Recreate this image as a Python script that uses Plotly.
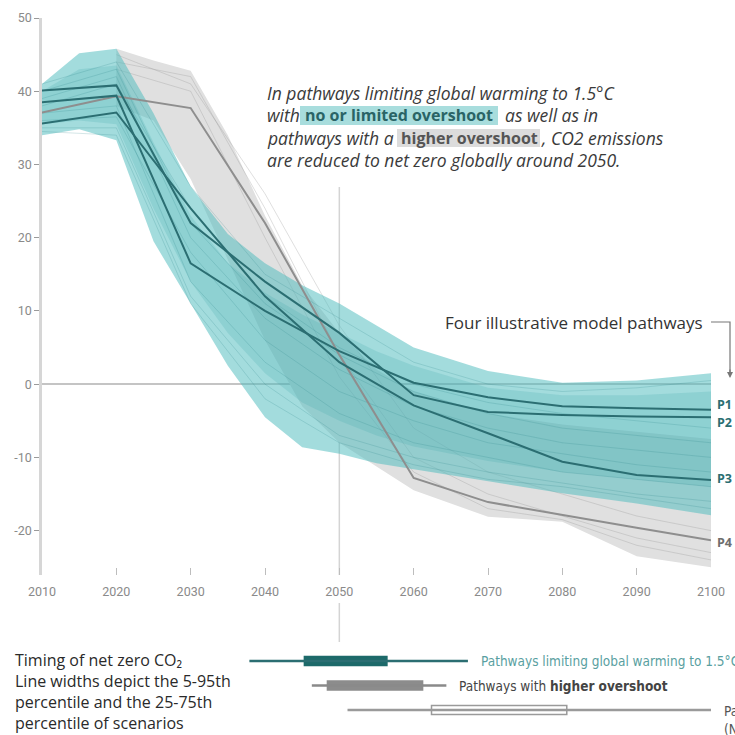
import plotly.graph_objects as go

# ---------------- data ----------------
band_years = [2010, 2015, 2020, 2025, 2030, 2035, 2040, 2045, 2050, 2055, 2060, 2070, 2080, 2090, 2100]
teal_upper = [41.0, 45.2, 45.8, 37.0, 27.0, 20.5, 16.5, 13.5, 11.0, 8.0, 5.0, 1.8, 0.2, 0.5, 1.5]
teal_lower = [34.0, 34.8, 33.3, 19.5, 11.0, 2.5, -4.5, -8.6, -9.5, -10.8, -11.7, -13.3, -14.9, -16.3, -17.9]
inner_upper = [40.0, 43.0, 43.5, 33.0, 23.0, 16.5, 12.5, 9.5, 7.0, 4.5, 2.5, -0.5, -1.5, -1.5, -1.0]
inner_lower = [35.5, 36.0, 35.5, 24.0, 14.0, 7.0, 1.5, -2.5, -5.0, -7.0, -8.5, -10.5, -12.0, -13.0, -14.0]

grey_years = [2020, 2025, 2030, 2035, 2040, 2045, 2050, 2055, 2060, 2070, 2080, 2090, 2100]
grey_upper = [45.8, 44.2, 42.8, 34.0, 23.0, 13.5, 7.0, 2.0, -1.0, -4.0, -5.5, -6.5, -7.5]
grey_lower = [38.0, 36.0, 28.0, 17.0, 6.0, -3.0, -8.0, -11.3, -14.5, -18.1, -18.8, -23.5, -25.0]

line_years = [2010, 2020, 2030, 2040, 2050, 2060, 2070, 2080, 2090, 2100]
P1 = [38.5, 39.4, 16.5, 10.0, 4.5, 0.2, -1.8, -3.0, -3.3, -3.5]
P2 = [40.1, 40.8, 22.0, 14.0, 7.0, -1.5, -3.8, -4.2, -4.4, -4.5]
P3 = [35.6, 37.1, 24.0, 12.0, 3.0, -2.9, -6.7, -10.6, -12.4, -13.1]
P4 = [37.1, 39.3, 37.7, 22.0, 4.0, -12.8, -16.1, -17.9, -19.6, -21.3]

# thin individual scenario lines (texture)
teal_scen = [
    [41.0, 44.0, 27.0, 15.0, 9.0, 3.0, 0.0, -1.0, -0.5, 0.5],
    [39.0, 42.0, 20.0, 9.0, 2.0, -3.0, -6.0, -8.0, -9.0, -10.0],
    [37.0, 38.0, 14.0, 3.0, -4.0, -8.0, -10.0, -12.0, -13.0, -14.0],
    [35.0, 35.0, 12.0, 0.0, -7.0, -10.0, -12.0, -13.5, -15.0, -16.0],
    [38.0, 41.0, 24.0, 12.0, 5.0, 0.0, -2.5, -4.0, -5.0, -6.0],
    [36.0, 36.5, 18.0, 6.0, -1.0, -5.0, -8.0, -9.5, -11.0, -12.0],
    [40.0, 43.0, 22.0, 11.0, 4.0, -1.0, -4.0, -6.0, -7.0, -8.0],
    [34.5, 34.0, 11.0, -2.0, -8.0, -11.0, -13.0, -14.0, -15.5, -17.0],
]
grey_scen_years = [2020, 2030, 2040, 2050, 2060, 2070, 2080, 2090, 2100]
grey_scen = [
    [44.0, 42.0, 24.0, 4.0, -10.0, -15.0, -18.0, -21.0, -23.0],
    [43.0, 40.0, 20.0, 1.0, -12.0, -17.0, -18.5, -22.0, -24.0],
    [45.0, 41.0, 26.0, 8.0, -6.0, -12.0, -15.0, -18.0, -20.0],
]

path_names = ["P1", "P2", "P3", "P4"]
label_shift = [5, -5, 2, -2]

x_ticks = [2010, 2020, 2030, 2040, 2050, 2060, 2070, 2080, 2090, 2100]
x_ticktext = ["2010", "2020", "2030", "2040", "2050", "2060", "2070", "2080", "2090", "2100"]
y_ticks = [-20, -10, 0, 10, 20, 30, 40, 50]
y_ticktext = ["-20", "-10", "0", "10", "20", "30", "40", "50"]

# timing of net zero (years): 5-95th and 25-75th percentiles
timing_rows = [3, 2, 1]
timing_p5 = [2037.9, 2046.3, 2051.1]
timing_p95 = [2067.3, 2064.4, 2100.0]
timing_p25 = [2045.3, 2048.4, 2062.4]
timing_p75 = [2056.4, 2061.2, 2080.6]
timing_labels = [
    "Pathways limiting global warming to 1.5°C with no or limited overshoot",
    "Pathways with <b>higher overshoot</b>",
    "Pathways limiting global warming below 2°C<br>(Not shown above)",
]
timing_title = ["Timing of net zero CO₂", "Line widths depict the 5-95th",
                "percentile and the 25-75th", "percentile of scenarios"]

# ---------------- styles ----------------
TEAL_DARK = "#2b6e72"
GREY_LINE = "#8e8e8e"
FONT = "Open Sans"

W, H = 735, 735
ML, MR, MT, MB = 42, 24, 18, 10
PLOT_BOTTOM_PX = 575


def px_x(px):
    return (px - ML) / (W - ML - MR)


def px_y(py):
    return (H - MB - py) / (H - MT - MB)


main_bottom = px_y(PLOT_BOTTOM_PX)

fig = go.Figure()

# grey band (higher overshoot)
fig.add_trace(go.Scatter(
    x=grey_years + grey_years[::-1], y=grey_upper + grey_lower[::-1],
    fill="toself", fillcolor="#e0e0e0", line=dict(color="rgba(0,0,0,0)", width=0),
    mode="lines", hoverinfo="skip", showlegend=False))
for s in grey_scen:
    fig.add_trace(go.Scatter(x=grey_scen_years, y=s, mode="lines",
                             line=dict(color="rgba(150,150,150,0.3)", width=1),
                             hoverinfo="skip", showlegend=False))

# teal band (no or limited overshoot)
fig.add_trace(go.Scatter(
    x=band_years + band_years[::-1], y=teal_upper + teal_lower[::-1],
    fill="toself", fillcolor="rgba(78,188,190,0.52)", line=dict(color="rgba(0,0,0,0)", width=0),
    mode="lines", hoverinfo="skip", showlegend=False))
fig.add_trace(go.Scatter(
    x=band_years + band_years[::-1], y=inner_upper + inner_lower[::-1],
    fill="toself", fillcolor="rgba(60,165,170,0.2)", line=dict(color="rgba(0,0,0,0)", width=0),
    mode="lines", hoverinfo="skip", showlegend=False))
for s in teal_scen:
    fig.add_trace(go.Scatter(x=line_years, y=s, mode="lines",
                             line=dict(color="rgba(40,130,135,0.2)", width=1),
                             hoverinfo="skip", showlegend=False))

# illustrative pathways
fig.add_trace(go.Scatter(x=line_years, y=P4, mode="lines",
                         line=dict(color=GREY_LINE, width=2), hoverinfo="skip", showlegend=False))
for p in (P1, P2, P3):
    fig.add_trace(go.Scatter(x=line_years, y=p, mode="lines",
                             line=dict(color=TEAL_DARK, width=2), hoverinfo="skip", showlegend=False))

# timing of net zero panel
thin_colors = [TEAL_DARK, "#8a8a8a", "#9a9a9a"]
for r, a, b, c in zip(timing_rows, timing_p5, timing_p95, thin_colors):
    fig.add_trace(go.Scatter(x=[a, b], y=[r, r], mode="lines", line=dict(color=c, width=2.5),
                             xaxis="x2", yaxis="y2", hoverinfo="skip", showlegend=False))
box_fill = ["#1d6a6a", "#8c8c8c", "#ffffff"]
box_line = ["#1d6a6a", "#8c8c8c", "#9a9a9a"]
for r, a, b, f, lc in zip(timing_rows, timing_p25, timing_p75, box_fill, box_line):
    fig.add_trace(go.Bar(y=[r], x=[b - a], base=[a], orientation="h", width=0.36,
                         marker=dict(color=f, line=dict(color=lc, width=1.5)),
                         xaxis="x2", yaxis="y2", hoverinfo="skip", showlegend=False))

annotations = []
# P labels
for name, vals, sh in zip(path_names, (P1, P2, P3, P4), label_shift):
    annotations.append(dict(x=line_years[-1], y=vals[-1], xref="x", yref="y", text=f"<b>{name}</b>",
                            showarrow=False, xanchor="left", yanchor="middle", xshift=4, yshift=sh,
                            font=dict(family=FONT, size=12.5,
                                      color=TEAL_DARK if name != "P4" else "#6e6e6e")))

# main annotation text
IT_COL = "#3a3a3a"
IT_SIZE = 17.5
HL_SIZE = 16
main_text = [
    dict(x=px_x(265), y=px_y(93), text="<i>In pathways limiting global warming to 1.5°C</i>",
         xanchor="left", yanchor="middle"),
    dict(x=px_x(265), y=px_y(115), text="<i>with</i>", xanchor="left", yanchor="middle"),
    dict(x=px_x(399), y=px_y(115), text="<b>no or limited overshoot</b>", xanchor="center",
         yanchor="middle", font=dict(family=FONT, size=HL_SIZE, color="#2a6466")),
    dict(x=px_x(503), y=px_y(115), text="<i>as well as in</i>", xanchor="left", yanchor="middle"),
    dict(x=px_x(265), y=px_y(138), text="<i>pathways with a</i>", xanchor="left", yanchor="middle"),
    dict(x=px_x(469), y=px_y(138), text="<b>higher overshoot</b>", xanchor="center",
         yanchor="middle", font=dict(family=FONT, size=HL_SIZE, color="#555555")),
    dict(x=px_x(539), y=px_y(138), text="<i>, CO2 emissions</i>", xanchor="left", yanchor="middle"),
    dict(x=px_x(265), y=px_y(160), text="<i>are reduced to net zero globally around 2050.</i>",
         xanchor="left", yanchor="middle"),
]
for a in main_text:
    a.setdefault("font", dict(family=FONT, size=IT_SIZE, color=IT_COL))
    a.update(xref="paper", yref="paper", showarrow=False)
annotations += main_text

annotations.append(dict(x=px_x(705), y=px_y(322), xref="paper", yref="paper",
                        text="Four illustrative model pathways", showarrow=False,
                        xanchor="right", yanchor="middle", font=dict(family=FONT, size=17, color="#333333")))
annotations.append(dict(x=px_x(730), y=px_y(378), xref="paper", yref="paper", text="",
                        showarrow=True, ax=0, ay=-10, arrowhead=2, arrowsize=1, arrowwidth=1.2,
                        arrowcolor="#777777", standoff=0))

# timing title (left), one line each
for txt, py in zip(timing_title, [660, 681, 702, 723]):
    annotations.append(dict(x=px_x(13), y=px_y(py), xref="paper", yref="paper", text=txt,
                            showarrow=False, xanchor="left", yanchor="middle",
                            font=dict(family=FONT, size=16, color="#2a2a2a")))

NARROW = "Liberation Sans Narrow, DejaVu Sans Condensed, Roboto"
label_cols = ["#5a9fa1", "#444444", "#555555"]
for r, end, txt, c in zip(timing_rows, timing_p95, timing_labels, label_cols):
    annotations.append(dict(x=end, y=r, xref="x2", yref="y2", text=txt, showarrow=False,
                            xanchor="left", yanchor="top" if "<br>" in txt else "middle",
                            yshift=9 if "<br>" in txt else 0, xshift=11, align="left",
                            font=dict(family=NARROW, size=13.5, color=c)))

shapes = [
    # highlight boxes behind the bold phrases
    dict(type="rect", xref="paper", yref="paper", x0=px_x(300), x1=px_x(498), y0=px_y(125), y1=px_y(106),
         fillcolor="#a8dddd", line=dict(width=0), layer="below"),
    dict(type="rect", xref="paper", yref="paper", x0=px_x(397), x1=px_x(540), y0=px_y(147), y1=px_y(129),
         fillcolor="#dcdcdc", line=dict(width=0), layer="below"),
    # 2050 guide line
    dict(type="line", xref="x", yref="paper", x0=2050, x1=2050, y0=main_bottom, y1=px_y(187),
         line=dict(color="#d4d4d4", width=1.5), layer="below"),
    dict(type="line", xref="x", yref="paper", x0=2050, x1=2050, y0=px_y(642), y1=px_y(603),
         line=dict(color="#d4d4d4", width=1.5), layer="below"),
    # bracket for illustrative pathways
    dict(type="path", xref="paper", yref="paper",
         path=f"M {px_x(711)},{px_y(322)} L {px_x(730)},{px_y(322)} L {px_x(730)},{px_y(372)}",
         line=dict(color="#777777", width=1.2)),
]

fig.update_layout(
    width=W, height=H, margin=dict(l=ML, r=MR, t=MT, b=MB),
    paper_bgcolor="white", plot_bgcolor="white",
    font=dict(family=FONT, color="#333333"),
    barmode="overlay", showlegend=False,
    xaxis=dict(range=[2010, 2100], domain=[0, 1], anchor="y",
               tickvals=x_ticks, ticktext=x_ticktext, ticks="inside", ticklen=7, tickwidth=1,
               tickcolor="#bdbdbd", showline=False, showgrid=False, zeroline=False,
               tickfont=dict(family="Roboto", size=12.5, color="#8a8a8a"), ticklabelstandoff=7),
    yaxis=dict(range=[(384 - PLOT_BOTTOM_PX) / 7.33, 50], domain=[main_bottom, 1], anchor="x",
               tickvals=y_ticks, ticktext=y_ticktext, ticks="outside", ticklen=5, tickwidth=1,
               tickcolor="#9a9a9a", showline=True, linecolor="#d6d6d6", linewidth=2.5,
               showgrid=False, zeroline=True, zerolinecolor="#c4c4c4", zerolinewidth=2,
               tickfont=dict(family="Roboto", size=12.5, color="#8a8a8a")),
    xaxis2=dict(range=[2010, 2100], domain=[0, 1], anchor="y2", visible=False),
    yaxis2=dict(range=[0.388, 5.857], domain=[0, px_y(591)], anchor="x2", visible=False),
    annotations=annotations, shapes=shapes,
)

fig.write_html("out.html")
